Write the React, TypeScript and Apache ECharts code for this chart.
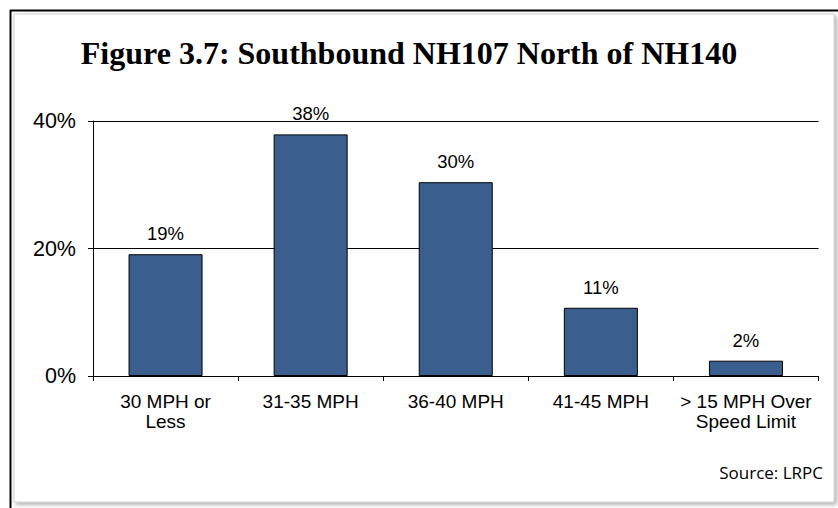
import React, { useEffect, useRef } from "react";
import * as echarts from "echarts";

const categories = ["30 MPH or\nLess", "31-35 MPH", "36-40 MPH", "41-45 MPH", "> 15 MPH Over\nSpeed Limit"];
const values = [19.1, 37.9, 30.4, 10.7, 2.4];
const yTicks = [0, 20, 40];
const titleText = "Figure 3.7: Southbound NH107 North of NH140";
const sourceText = "Source: LRPC";

export default function App() {
  const ref = useRef<HTMLDivElement>(null);
  useEffect(() => {
    if (!ref.current) return;
    const chart = echarts.init(ref.current, null, { renderer: "svg" });
    chart.setOption({
      animation: false,
      backgroundColor: "#ffffff",
      graphic: [
        {
          type: "rect",
          z: -10,
          shape: { x: 14, y: 14, width: 820, height: 488 },
          style: { fill: "#ffffff", stroke: "#d0d0d0", lineWidth: 1, shadowBlur: 4, shadowOffsetX: 2, shadowOffsetY: 2, shadowColor: "rgba(0,0,0,0.35)" },
        },
        {
          type: "line",
          z: 10,
          shape: { x1: 10, y1: 10.5, x2: 838, y2: 10.5 },
          style: { stroke: "#000000", lineWidth: 2 },
        },
        {
          type: "line",
          z: 10,
          shape: { x1: 10.5, y1: 10, x2: 10.5, y2: 508 },
          style: { stroke: "#000000", lineWidth: 2 },
        },
        {
          type: "text",
          x: 409,
          y: 37,
          style: {
            text: titleText,
            textAlign: "center",
            textVerticalAlign: "top",
            font: "bold 32px 'Liberation Serif', 'Times New Roman', serif",
            fill: "#000000",
          },
        },
        {
          type: "text",
          right: 15,
          top: 464,
          style: {
            text: sourceText,
            font: "17px 'Open Sans', 'Liberation Sans', sans-serif",
            fill: "#000000",
          },
        },
      ],
      grid: { left: 93, right: 19.5, top: 121, bottom: 132, containLabel: false },
      xAxis: {
        type: "category",
        data: categories,
        axisLine: { show: true, lineStyle: { color: "#000000", width: 1 } },
        axisTick: { show: true, alignWithLabel: false, length: 5, lineStyle: { color: "#000000" } },
        axisLabel: {
          color: "#000000",
          fontFamily: "'Liberation Sans', Arial, sans-serif",
          fontSize: 19,
          lineHeight: 20,
          margin: 15,
          interval: 0,
        },
      },
      yAxis: {
        type: "value",
        min: 0,
        max: 40,
        interval: 20,
        axisLine: { show: true, lineStyle: { color: "#000000", width: 1 } },
        axisTick: { show: true, length: 5, lineStyle: { color: "#000000" } },
        splitLine: { show: true, lineStyle: { color: "#000000", width: 1 } },
        axisLabel: {
          color: "#000000",
          fontFamily: "'Liberation Sans', Arial, sans-serif",
          fontSize: 21.5,
          margin: 17,
          formatter: (v: number) => (yTicks.includes(v) ? `${v}%` : ""),
        },
      },
      series: [
        {
          type: "bar",
          data: values,
          barWidth: "51%",
          itemStyle: { color: "#3A5F8E", borderColor: "#000000", borderWidth: 1 },
          label: {
            show: true,
            position: "top",
            distance: 11,
            color: "#000000",
            fontFamily: "'Liberation Sans', Arial, sans-serif",
            fontSize: 18.5,
            formatter: (p: any) => `${Math.round(p.value)}%`,
          },
        },
      ],
    });
    return () => chart.dispose();
  }, []);
  return <div ref={ref} style={{ position: "fixed", left: 0, top: 0, width: 838, height: 508 }} />;
}
